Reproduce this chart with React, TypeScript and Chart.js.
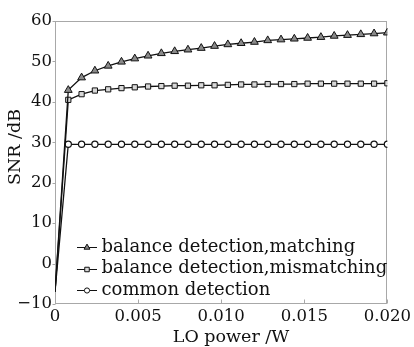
import React, { useEffect, useRef } from "react";
import { Chart, registerables } from "chart.js";

Chart.register(...registerables);

const xValues = [
  0, 0.0008, 0.0016, 0.0024, 0.0032, 0.004, 0.0048, 0.0056, 0.0064, 0.0072,
  0.008, 0.0088, 0.0096, 0.0104, 0.0112, 0.012, 0.0128, 0.0136, 0.0144,
  0.0152, 0.016, 0.0168, 0.0176, 0.0184, 0.0192, 0.02,
];

const matching = [
  -7.0, 42.9, 46.0, 47.7, 48.9, 49.9, 50.7, 51.4, 52.0, 52.5, 52.9, 53.3,
  53.8, 54.2, 54.5, 54.8, 55.2, 55.4, 55.6, 55.8, 56.0, 56.3, 56.5, 56.7,
  56.9, 57.1,
];

const mismatching = [
  -7.0, 40.5, 41.9, 42.8, 43.1, 43.4, 43.6, 43.8, 43.9, 44.0, 44.0, 44.1,
  44.1, 44.2, 44.3, 44.3, 44.4, 44.4, 44.4, 44.5, 44.5, 44.5, 44.5, 44.5,
  44.5, 44.6,
];

const common = [
  -7.0, 29.5, 29.5, 29.5, 29.5, 29.5, 29.5, 29.5, 29.5, 29.5, 29.5, 29.5,
  29.5, 29.5, 29.5, 29.5, 29.5, 29.5, 29.5, 29.5, 29.5, 29.5, 29.5, 29.5,
  29.5, 29.5,
];

const seriesLabels = [
  "balance detection,matching",
  "balance detection,mismatching",
  "common detection",
];

const xTicks = [0, 0.005, 0.01, 0.015, 0.02];
const xTickLabels = ["0", "0.005", "0.010", "0.015", "0.020"];
const yTicks = [-10, 0, 10, 20, 30, 40, 50, 60];

const xTitle = "LO power /W";
const yTitle = "SNR /dB";

const FONT = "'DejaVu Serif', serif";

function drawMarker(ctx: CanvasRenderingContext2D, kind: string, x: number, y: number, r: number, fill: string) {
  ctx.beginPath();
  if (kind === "triangle") {
    for (let i = 0; i < 3; i++) {
      const ang = (i * 2 * Math.PI) / 3;
      const px = x + Math.sin(ang) * r;
      const py = y - Math.cos(ang) * r;
      if (i === 0) ctx.moveTo(px, py);
      else ctx.lineTo(px, py);
    }
    ctx.closePath();
  } else if (kind === "rect") {
    const s = Math.SQRT1_2 * r;
    ctx.rect(x - s, y - s, 2 * s, 2 * s);
  } else {
    ctx.arc(x, y, r, 0, Math.PI * 2);
  }
  ctx.fillStyle = fill;
  ctx.fill();
  ctx.strokeStyle = "#111";
  ctx.lineWidth = 1;
  ctx.stroke();
}

const frame = {
  id: "frame",
  beforeDatasetsDraw(chart: any) {
    const { ctx, chartArea: a, scales } = chart;
    ctx.save();
    ctx.strokeStyle = "#a8a8a8";
    ctx.lineWidth = 1;
    const l = Math.round(a.left) + 0.5;
    const t = Math.round(a.top) + 0.5;
    const r = Math.round(a.right) - 0.5;
    const b = Math.round(a.bottom) - 0.5;
    ctx.strokeRect(l, t, r - l, b - t);
    ctx.beginPath();
    yTicks.forEach((v) => {
      const py = Math.round(scales.y.getPixelForValue(v)) + 0.5;
      ctx.moveTo(l - 3, py);
      ctx.lineTo(l, py);
    });
    xTicks.forEach((v) => {
      const px = Math.round(scales.x.getPixelForValue(v)) + 0.5;
      ctx.moveTo(px, b);
      ctx.lineTo(px, b - 4);
    });
    ctx.stroke();
    ctx.restore();
  },
  afterDraw(chart: any) {
    const { ctx } = chart;
    ctx.save();
    ctx.fillStyle = "#111";
    ctx.font = `17.5px ${FONT}`;
    ctx.textAlign = "center";
    ctx.textBaseline = "middle";
    ctx.fillText(xTitle, 231, 337.5);
    ctx.save();
    ctx.translate(15, 147);
    ctx.rotate(-Math.PI / 2);
    ctx.fillText(yTitle, 0, 0);
    ctx.restore();

    // legend
    const rows = [247, 268.7, 290.3];
    const kinds = ["triangle", "rect", "circle"];
    const fills = ["#8a8a8a", "#d8d8d8", "#ffffff"];
    const radii = [3.4, 3.2, 2.6];
    rows.forEach((y, i) => {
      ctx.strokeStyle = "#111";
      ctx.lineWidth = 1;
      ctx.beginPath();
      ctx.moveTo(77, Math.round(y) + 0.5);
      ctx.lineTo(97, Math.round(y) + 0.5);
      ctx.stroke();
      drawMarker(ctx, kinds[i], 87, Math.round(y) + 0.5, radii[i], fills[i]);
      ctx.fillStyle = "#111";
      ctx.font = `18px ${FONT}`;
      ctx.textAlign = "left";
      ctx.textBaseline = "middle";
      ctx.fillText(seriesLabels[i], 101.5, y);
    });
    ctx.restore();
  },
};

export default function App() {
  const ref = useRef<HTMLCanvasElement | null>(null);

  useEffect(() => {
    if (!ref.current) return;
    const mk = (vals: number[]) => vals.map((v, i) => ({ x: xValues[i], y: v }));
    const radii = (r: number) => xValues.map((_, i) => (i === 0 ? 0 : r));
    const chart = new Chart(ref.current, {
      type: "line",
      data: {
        datasets: [
          {
            label: seriesLabels[0],
            data: mk(matching),
            borderColor: "#111",
            borderWidth: 1.3,
            pointStyle: "triangle",
            pointRadius: radii(4.5),
            pointBackgroundColor: "#8a8a8a",
            pointBorderColor: "#111",
            pointBorderWidth: 1,
          },
          {
            label: seriesLabels[1],
            data: mk(mismatching),
            borderColor: "#111",
            borderWidth: 1.3,
            pointStyle: "rect",
            pointRadius: radii(3.7),
            pointBackgroundColor: "#d8d8d8",
            pointBorderColor: "#111",
            pointBorderWidth: 1,
          },
          {
            label: seriesLabels[2],
            data: mk(common),
            borderColor: "#111",
            borderWidth: 1.3,
            pointStyle: "circle",
            pointRadius: radii(3.1),
            pointBackgroundColor: "#ffffff",
            pointBorderColor: "#111",
            pointBorderWidth: 1.2,
          },
        ],
      },
      options: {
        animation: false,
        responsive: true,
        maintainAspectRatio: false,
        layout: { padding: { top: 21, right: 26, left: 0, bottom: 0 } },
        plugins: { legend: { display: false }, tooltip: { enabled: false } },
        scales: {
          x: {
            type: "linear",
            min: 0,
            max: 0.02,
            grid: { display: false, drawTicks: false },
            border: { display: false },
            afterBuildTicks: (s: any) => {
              s.ticks = xTicks.map((v) => ({ value: v }));
            },
            ticks: {
              padding: 3,
              color: "#111",
              font: { family: FONT, size: 16.5 },
              maxRotation: 0,
              autoSkip: false,
              callback: (v: any) => {
                const i = xTicks.findIndex((t) => Math.abs(t - Number(v)) < 1e-9);
                return i >= 0 ? xTickLabels[i] : "";
              },
            },
            afterFit: (s: any) => {
              s.height = 43;
            },
          },
          y: {
            min: -10,
            max: 60,
            grid: { display: false, drawTicks: false },
            border: { display: false },
            afterBuildTicks: (s: any) => {
              s.ticks = yTicks.map((v) => ({ value: v }));
            },
            ticks: {
              padding: 3,
              color: "#111",
              font: { family: FONT, size: 16.5 },
              callback: (v: any) => (Number(v) < 0 ? "\u2212" + Math.abs(Number(v)) : String(v)),
            },
            afterFit: (s: any) => {
              s.width = 55;
            },
          },
        },
      },
      plugins: [frame],
    });
    return () => chart.destroy();
  }, []);

  return (
    <div style={{ position: "fixed", left: 0, top: 0, width: 414, height: 347, background: "#fff" }}>
      <canvas ref={ref} />
    </div>
  );
}
